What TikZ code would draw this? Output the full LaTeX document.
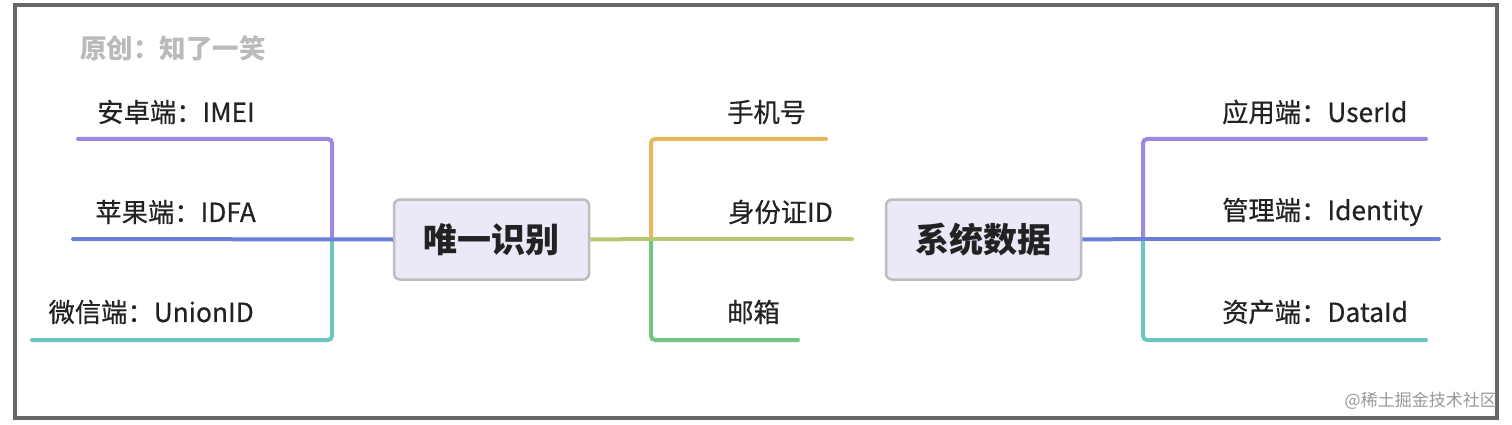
\documentclass[tikz,border=0pt]{standalone}
\usepackage{fontspec}
\setmainfont{Noto Sans CJK SC}
\newfontfamily\lblfont[FakeBold=0.5]{Noto Sans CJK SC}
\definecolor{cpurple}{HTML}{9D87E0}
\definecolor{cblue}{HTML}{6B7ED9}
\definecolor{cteal}{HTML}{6CC5C0}
\definecolor{corange}{HTML}{E6B858}
\definecolor{colive}{HTML}{B7C96F}
\definecolor{cgreen}{HTML}{74C583}
\definecolor{boxfill}{HTML}{ECE8F8}
\definecolor{boxline}{HTML}{BDBDBD}
\definecolor{frame}{HTML}{686868}
\definecolor{txt}{HTML}{222222}
\tikzset{
  lbl/.style={inner sep=0pt, text=txt, font=\lblfont\fontsize{26.3}{29}\selectfont},
  topic/.style={draw=boxline, line width=2.5pt, fill=boxfill, rounded corners=6pt,
    minimum width=195pt, minimum height=80pt, inner sep=0pt, text=txt,
    font=\fontsize{34}{38}\selectfont\bfseries},
  br/.style={line width=4pt, line cap=round, rounded corners=4pt},
}
\begin{document}
\begin{tikzpicture}[x=1pt,y=-1pt]
\useasboundingbox (0,0) rectangle (1512,425);
\fill[white] (0,0) rectangle (1512,425);
\draw[frame, line width=4pt] (15,5) rectangle (1497,418);

\node[anchor=west, inner sep=0pt, text=black!27, font=\fontsize{26.5}{29}\selectfont\bfseries] (title) at (80,48) {原创：知了一笑};

% topics
\node[topic] (t1) at (491.5,239.5) {唯一识别};
\node[topic] (t2) at (983.5,239.5) {系统数据};

% left labels
\node[lbl, anchor=east] (a1) at (255,112) {安卓端：IMEI};
\node[lbl, anchor=east] (a2) at (256,212) {苹果端：IDFA};
\node[lbl, anchor=east] (a3) at (254,312) {微信端：UnionID};
\coordinate (a1s) at (78,139);
\coordinate (a2s) at (73,239);
\coordinate (a3s) at (32,340);
\coordinate (lj) at (332,239);

% middle labels
\node[lbl, anchor=west] (b1) at (727,112) {手机号};
\node[lbl, anchor=west] (b2) at (728,212) {身份证ID};
\node[lbl, anchor=west] (b3) at (727,312) {邮箱};
\coordinate (b1e) at (826,139);
\coordinate (b2e) at (852,239);
\coordinate (b3e) at (798,340);
\coordinate (mj) at (651,239);

% right labels
\node[lbl, anchor=west] (c1) at (1222,112) {应用端：UserId};
\node[lbl, anchor=west] (c2) at (1222,212) {管理端：Identity};
\node[lbl, anchor=west] (c3) at (1222,312) {资产端：DataId};
\coordinate (c1e) at (1426,139);
\coordinate (c2e) at (1439,239);
\coordinate (c3e) at (1426,340);
\coordinate (rj) at (1143,239);

% left branches
\draw[br, cpurple] (a1s) -| (lj);
\draw[br, cteal] (a3s) -| (lj);
\draw[br, cblue, line cap=butt] (t1.west) -- (a2s);
\draw[cblue, line width=4pt, line cap=round] (a2s) -- ++(1,0);

% middle branches
\draw[br, corange] (b1e) -| (mj);
\draw[br, cgreen] (b3e) -| (mj);
\draw[colive, line width=4pt] (t1.east) -- (mj);
\draw[colive, line width=4pt, line cap=round] (mj) -- (b2e);

% right branches
\draw[br, cpurple] (c1e) -| (rj);
\draw[br, cteal] (c3e) -| (rj);
\draw[cblue, line width=4pt] (t2.east) -- (rj);
\draw[cblue, line width=4pt, line cap=round] (rj) -- (c2e);

\node[anchor=east, inner sep=0pt, text=black!40, font=\fontsize{17}{19}\selectfont] (wm) at (1497,401) {@稀土掘金技术社区};
\end{tikzpicture}
\end{document}
